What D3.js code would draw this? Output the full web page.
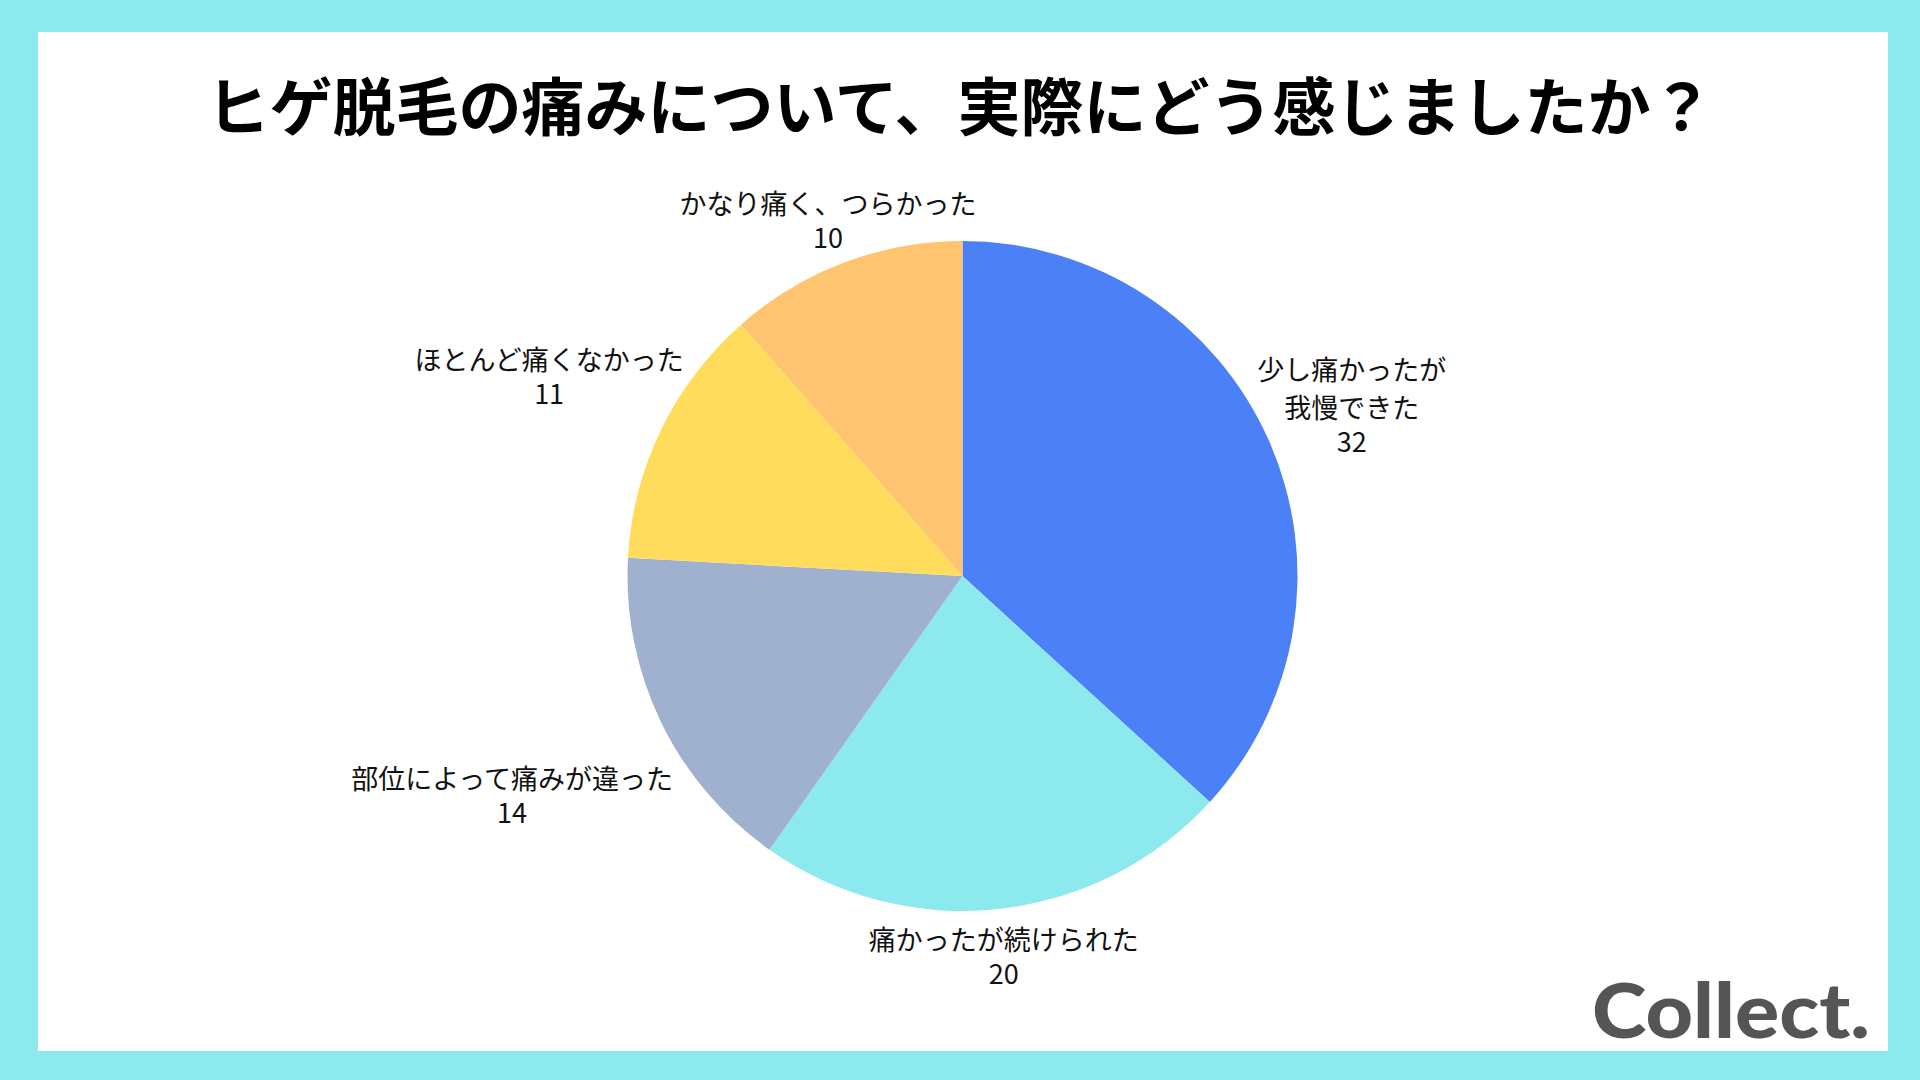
<!DOCTYPE html>
<html><head><meta charset="utf-8">
<script src="https://cdn.jsdelivr.net/npm/d3@7"></script>
<style>
html,body{margin:0;padding:0;background:#8ce9ed;}
svg{display:block;}
</style></head>
<body>
<svg id="c" width="1920" height="1080"></svg>
<script>
const title = "ヒゲ脱毛の痛みについて、実際にどう感じましたか？";
const categories = ["少し痛かったが\n我慢できた","痛かったが続けられた","部位によって痛みが違った","ほとんど痛くなかった","かなり痛く、つらかった"];
const values = [32, 20, 14, 11, 10];
const colors = ["#4c80f6","#8ce9ed","#a0b1cf","#ffdc5c","#ffc46f"];

const W = 1920, H = 1080;
const svg = d3.select("#c");
svg.append("rect").attr("width",W).attr("height",H).attr("fill","#8ce9ed");
svg.append("rect").attr("x",38).attr("y",32).attr("width",1888-38).attr("height",1051-32).attr("fill","#ffffff");

svg.append("text").attr("x",960).attr("y",102)
  .attr("text-anchor","middle").attr("dominant-baseline","central")
  .attr("font-family","'Noto Sans CJK JP'").attr("font-weight",700)
  .attr("font-size",63).attr("fill","#000").text(title);

const cx = 962.5, cy = 576, r = 335;
const data = categories.map((c,i)=>({cat:c, v:values[i], color:colors[i]}));
const pie = d3.pie().value(d=>d.v).sort(null);
const arcs = pie(data);
const arc = d3.arc().innerRadius(0).outerRadius(r);
const g = svg.append("g").attr("transform",`translate(${cx},${cy})`);
g.selectAll("path").data(arcs).join("path").attr("d",arc).attr("fill",d=>d.data.color);

const fs = 27, lhWrap = 38, lhNum = 34;
const lg = g.append("g").attr("font-family","'Noto Sans CJK JP'").attr("font-size",fs).attr("fill","#111");
arcs.forEach(a=>{
  const th = (a.startAngle + a.endAngle)/2;
  const catLines = a.data.cat.split("\n");
  const lines = catLines.concat([String(a.data.v)]);
  const ys = [];
  let y = 0;
  lines.forEach((ln,i)=>{ ys.push(y); y += (i < catLines.length-1) ? lhWrap : lhNum; });
  const t = lg.append("text").attr("text-anchor","middle");
  lines.forEach((ln,i)=>t.append("tspan").attr("x",0).attr("y",ys[i]).attr("dominant-baseline","central").text(ln));
  const hw = t.node().getBBox().width/2;
  const R = r + 12 + hw*Math.abs(Math.sin(th)) - 20*Math.cos(th);
  const ccx = R*Math.sin(th), ccy = -R*Math.cos(th);
  const mid = (ys[0] + ys[ys.length-1])/2;
  t.attr("transform",`translate(${ccx},${ccy - mid})`);
});

const logo = svg.append("text").attr("x",1592).attr("y",1038)
  .attr("font-family","Lato").attr("font-weight",900).attr("font-size",76)
  .attr("fill","#555555").text("Collect.");
logo.attr("textLength",278).attr("lengthAdjust","spacingAndGlyphs");
</script>
</body></html>
